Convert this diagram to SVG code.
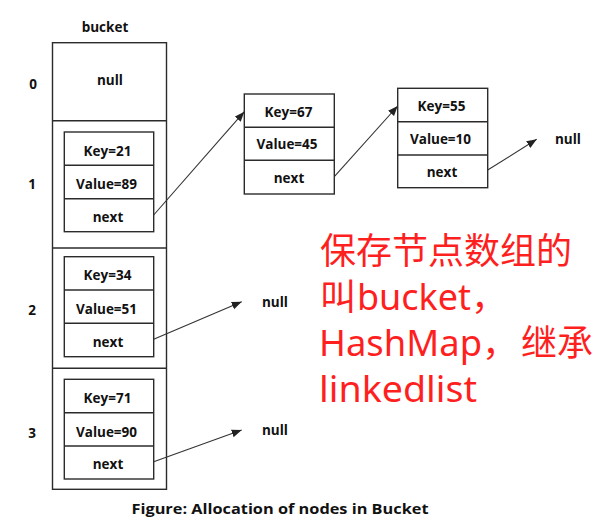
<svg xmlns="http://www.w3.org/2000/svg" width="616" height="532" viewBox="0 0 616 532">
<style>
.box{fill:#fff;stroke:#2b2b2b;stroke-width:1.4}
.ln{stroke:#2b2b2b;stroke-width:1.4}
.t{font-family:"Open Sans","Liberation Sans",sans-serif;font-weight:bold;font-size:13.5px;fill:#111;text-anchor:middle}
.idx{font-family:"Open Sans","Liberation Sans",sans-serif;font-weight:bold;font-size:13.5px;fill:#111;text-anchor:middle}
.arr{stroke:#333;stroke-width:1.1;fill:none;marker-end:url(#ah)}
.red{font-family:"Noto Sans","Noto Sans CJK SC",sans-serif;font-size:36px;fill:#fe1f1f}
</style>
<defs>
<marker id="ah" markerUnits="userSpaceOnUse" markerWidth="12" markerHeight="10" refX="10" refY="4" orient="auto">
<path d="M0,0 L10,4 L0,8 Z" fill="#222"/>
</marker>
</defs>
<rect width="616" height="532" fill="#fff"/>
<text class="t" x="105" y="32">bucket</text>
<g id="bucket">
<rect class="box" x="52.5" y="42.7" width="114" height="446.6"/>
<line class="ln" x1="52.5" y1="120.7" x2="166.5" y2="120.7"/>
<line class="ln" x1="52.5" y1="248" x2="166.5" y2="248"/>
<line class="ln" x1="52.5" y1="368.3" x2="166.5" y2="368.3"/>
<text class="t" x="110" y="85">null</text>
<text class="idx" x="33" y="89">0</text>
<text class="idx" x="32" y="189">1</text>
<text class="idx" x="32" y="315">2</text>
<text class="idx" x="32" y="438">3</text>
</g>
<g id="node-21">
<rect class="box" x="64.3" y="132" width="89.4" height="99.7"/>
<line class="ln" x1="64.3" y1="165.3" x2="153.7" y2="165.3"/>
<line class="ln" x1="64.3" y1="198.7" x2="153.7" y2="198.7"/>
<text class="t" x="107.5" y="156">Key=21</text>
<text class="t" x="106.5" y="189">Value=89</text>
<text class="t" x="108" y="221.5">next</text>
</g>
<g id="node-34">
<rect class="box" x="64.3" y="256.7" width="89.4" height="100"/>
<line class="ln" x1="64.3" y1="290" x2="153.7" y2="290"/>
<line class="ln" x1="64.3" y1="323.3" x2="153.7" y2="323.3"/>
<text class="t" x="107.5" y="280">Key=34</text>
<text class="t" x="106.5" y="313.5">Value=51</text>
<text class="t" x="108" y="346.5">next</text>
</g>
<g id="node-71">
<rect class="box" x="64.3" y="379.3" width="89.4" height="99.7"/>
<line class="ln" x1="64.3" y1="412.7" x2="153.7" y2="412.7"/>
<line class="ln" x1="64.3" y1="446" x2="153.7" y2="446"/>
<text class="t" x="107.5" y="403">Key=71</text>
<text class="t" x="106.5" y="436.5">Value=90</text>
<text class="t" x="108" y="469">next</text>
</g>
<g id="node-67">
<rect class="box" x="244.3" y="94" width="90" height="100"/>
<line class="ln" x1="244.3" y1="127.3" x2="334.3" y2="127.3"/>
<line class="ln" x1="244.3" y1="160.3" x2="334.3" y2="160.3"/>
<text class="t" x="288.5" y="116.7">Key=67</text>
<text class="t" x="287" y="149">Value=45</text>
<text class="t" x="289" y="183.3">next</text>
</g>
<g id="node-55">
<rect class="box" x="397.7" y="88.3" width="90" height="99.4"/>
<line class="ln" x1="397.7" y1="121.7" x2="487.7" y2="121.7"/>
<line class="ln" x1="397.7" y1="155" x2="487.7" y2="155"/>
<text class="t" x="441.5" y="110.7">Key=55</text>
<text class="t" x="440.5" y="144">Value=10</text>
<text class="t" x="442" y="176.7">next</text>
</g>
<g id="nulls">
<text class="t" x="568" y="143.5">null</text>
<text class="t" x="275" y="306.5">null</text>
<text class="t" x="275" y="434.5">null</text>
</g>
<g id="connectors">
<line class="arr" x1="153.7" y1="215" x2="244.3" y2="111.7"/>
<line class="arr" x1="334.3" y1="176.7" x2="397.7" y2="106"/>
<line class="arr" x1="487.7" y1="170" x2="536.7" y2="139.3"/>
<line class="arr" x1="153.7" y1="339.3" x2="241.7" y2="301.7"/>
<line class="arr" x1="153.7" y1="461.7" x2="241.7" y2="430"/>
</g>
<g id="note">
<text class="red" x="320" y="264">保存节点数组的</text>
<text class="red" y="310"><tspan x="320">叫</tspan><tspan x="357" textLength="114" lengthAdjust="spacingAndGlyphs">bucket</tspan><tspan x="471">，</tspan></text>
<text class="red" y="356"><tspan x="319" textLength="163" lengthAdjust="spacingAndGlyphs">HashMap</tspan><tspan x="482">，</tspan><tspan x="521">继承</tspan></text>
<text class="red" y="402"><tspan x="319" textLength="158" lengthAdjust="spacingAndGlyphs">linkedlist</tspan></text>
</g>
<text x="280" y="514" font-family="Open Sans, Liberation Sans, sans-serif" font-weight="bold" font-size="15" fill="#111" text-anchor="middle" textLength="297" lengthAdjust="spacingAndGlyphs">Figure: Allocation of nodes in Bucket</text>
</svg>
